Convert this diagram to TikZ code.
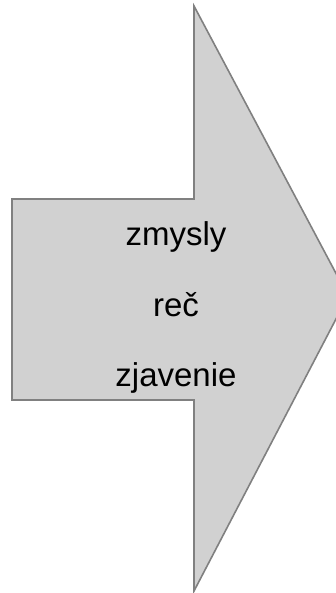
\documentclass[tikz,border=0pt]{standalone}
\usepackage{fontspec}
\setmainfont{Liberation Sans}
\begin{document}
\begin{tikzpicture}[x=1pt,y=1pt,
  arrowshape/.style={draw=black!50, fill=black!18, line width=1.6pt, line join=miter},
  label/.style={font=\fontsize{33}{38}\selectfont, text=black, anchor=base, inner sep=0pt}]
\useasboundingbox (0,0) rectangle (336,593);
\clip (0,0) rectangle (336,593);
\coordinate (top) at (194,587);
\coordinate (tip) at (348,297);
\coordinate (bot) at (194,2);
\coordinate (sbr) at (194,193);
\coordinate (sbl) at (12,193);
\coordinate (stl) at (12,394);
\coordinate (str) at (194,394);
\draw[arrowshape] (top) -- (tip) -- (bot) -- (sbr) -- (sbl) -- (stl) -- (str) -- cycle;
\node[label] (t1) at (176,347) {zmysly};
\node[label] (t2) at (176,276) {reč};
\node[label] (t3) at (176,206) {zjavenie};
\end{tikzpicture}
\end{document}
